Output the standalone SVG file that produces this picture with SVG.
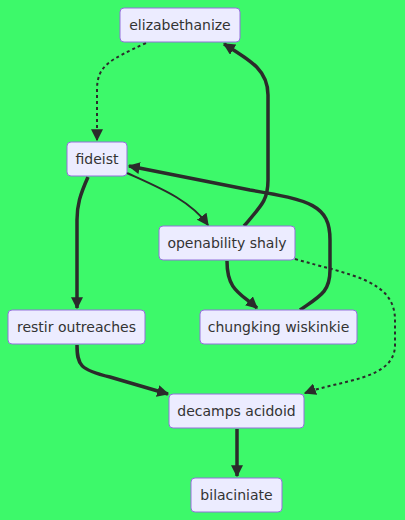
<svg xmlns="http://www.w3.org/2000/svg" width="405" height="520" viewBox="0 0 405 520">
<defs>
<style>
.node rect{fill:#ECECFF;stroke:#9370DB;stroke-width:1}
.node text{font-family:"DejaVu Sans",Verdana,sans-serif;font-size:14px;fill:#333;text-anchor:middle;dominant-baseline:central}
.e{fill:none;stroke:#2b2b2b}
.n{stroke-width:2}
.t{stroke-width:3.5}
.d{stroke-width:2;stroke-dasharray:3 3}
</style>
<marker id="ah" viewBox="0 0 10 10" refX="9" refY="5" markerWidth="7" markerHeight="7" orient="auto" markerUnits="userSpaceOnUse">
<path d="M0,0 L10,5 L0,10 z" fill="#2b2b2b"/>
</marker>
<marker id="ahs" viewBox="0 0 10 10" refX="9" refY="5" markerWidth="12" markerHeight="12" orient="auto" markerUnits="userSpaceOnUse">
<path d="M0,0 L10,5 L0,10 z" fill="#2b2b2b"/>
</marker>
</defs>
<rect width="405" height="520" fill="#3DF96A"/>
<g id="edges">
<path class="e d" d="M146,43 C110,60 97,65 97,90 L97,140" marker-end="url(#ahs)"/>
<path class="e n" d="M127,173 C160,188 190,200 208,225" marker-end="url(#ahs)"/>
<path class="e t" d="M88,177 C80,195 77,205 77,220 L77,308" marker-end="url(#ahs)"/>
<path class="e t" d="M244,226 C262,205 268,200 268,180 L268,95 C268,70 250,60 224,44" marker-end="url(#ahs)"/>
<path class="e t" d="M300,310 C320,296 330,292 330,270 L330,240 C330,205 310,200 250,190 L129,166" marker-end="url(#ahs)"/>
<path class="e t" d="M227,261 C227,290 240,293 257,308" marker-end="url(#ahs)"/>
<path class="e d" d="M295,259 C350,275 395,280 395,320 L395,345 C395,380 340,380 305,393" marker-end="url(#ahs)"/>
<path class="e t" d="M77,345 C77,365 80,370 110,377 L168,394" marker-end="url(#ahs)"/>
<path class="e t" d="M237,429 L237,476" marker-end="url(#ahs)"/>
</g>
<g id="elizabethanize" class="node"><rect x="120" y="8" width="120" height="34" rx="4"/><text x="180" y="25">elizabethanize</text></g>
<g id="fideist" class="node"><rect x="67" y="142" width="60" height="34" rx="4"/><text x="97" y="159">fideist</text></g>
<g id="openability" class="node"><rect x="159" y="226" width="136" height="34" rx="4"/><text x="227" y="243">openability shaly</text></g>
<g id="restir" class="node"><rect x="8" y="310" width="137" height="34" rx="4"/><text x="76.5" y="327">restir outreaches</text></g>
<g id="chungking" class="node"><rect x="200" y="310" width="157" height="34" rx="4"/><text x="278.5" y="327">chungking wiskinkie</text></g>
<g id="decamps" class="node"><rect x="169" y="394" width="135" height="34" rx="4"/><text x="236.5" y="411">decamps acidoid</text></g>
<g id="bilaciniate" class="node"><rect x="191" y="478" width="91" height="34" rx="4"/><text x="236.5" y="495">bilaciniate</text></g>
</svg>
